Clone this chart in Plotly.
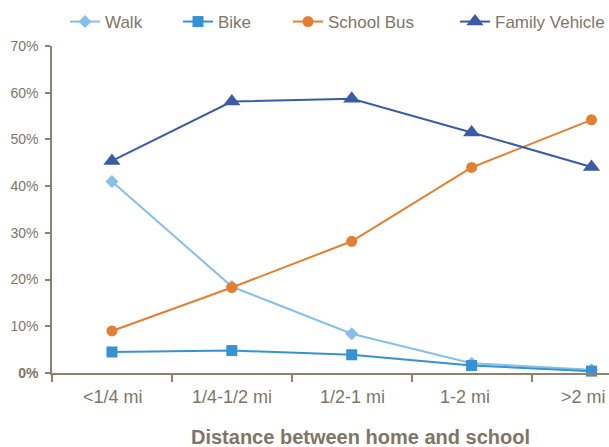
import plotly.graph_objects as go

# Travel mode share by distance between home and school
distances = ["<1/4 mi", "1/4-1/2 mi", "1/2-1 mi", "1-2 mi", ">2 mi"]
walk = [41.0, 18.5, 8.4, 2.1, 0.7]
bike = [4.5, 4.8, 3.9, 1.6, 0.4]
school_bus = [9.0, 18.3, 28.2, 44.0, 54.2]
family_vehicle = [45.4, 58.1, 58.7, 51.5, 44.1]

y_ticks = [0, 10, 20, 30, 40, 50, 60, 70]
y_tick_text = ["<b>0%</b>"] + [f"{v}%" for v in y_ticks[1:]]

FONT = "Liberation Sans, Arial, sans-serif"
TEXT = "#7f7565"
AXIS = "#8c8270"

series = [
    ("Walk", walk, "#86c0e8", "diamond", 10, "legend"),
    ("Bike", bike, "#3792d2", "square", 11, "legend2"),
    ("School Bus", school_bus, "#e47f31", "circle", 11, "legend3"),
    ("Family Vehicle", family_vehicle, "#3b5ba4", "triangle-up", 15, "legend4"),
]

fig = go.Figure()
for name, vals, color, symbol, size, leg in series:
    fig.add_trace(go.Scatter(
        x=distances, y=vals, name=name, mode="lines+markers",
        line=dict(color=color, width=2),
        marker=dict(symbol=symbol, size=size, color=color),
        cliponaxis=False, legend=leg, showlegend=True,
    ))

W, H = 609, 447
L, R, T, B = 52, 0, 46, 74
pw, ph = W - L - R, H - T - B


def px_x(px):
    return (px - L) / pw


def px_y(py):
    return (H - B - py) / ph


legend_left = [65, 178, 288, 455]
legends = {}
for i, left in enumerate(legend_left):
    key = "legend" if i == 0 else f"legend{i + 1}"
    legends[key] = dict(
        x=px_x(left), y=px_y(22), xanchor="left", yanchor="middle",
        orientation="h", bgcolor="rgba(0,0,0,0)",
        font=dict(family=FONT, size=17, color=TEXT),
    )

# Category labels drawn as annotations so the outer ones stay inside the frame
label_shift = [1, 0, 1, -7, -8]
annotations = [
    dict(text=cat, xref="x", yref="paper", x=cat, y=0, yshift=-24, xshift=dx,
         xanchor="center", yanchor="middle", showarrow=False,
         font=dict(family=FONT, size=18, color=TEXT))
    for cat, dx in zip(distances, label_shift)
]
annotations.append(dict(
    text="<b>Distance between home and school</b>",
    xref="paper", yref="paper", x=px_x(360), y=px_y(437),
    xanchor="center", yanchor="middle", showarrow=False,
    font=dict(family=FONT, size=20, color=TEXT),
))

fig.update_layout(
    width=W, height=H,
    margin=dict(l=L, r=R, t=T, b=B, autoexpand=False),
    plot_bgcolor="white", paper_bgcolor="white",
    font=dict(family=FONT, color=TEXT),
    showlegend=True,
    **legends,
    xaxis=dict(
        type="category", range=[-0.5, 4.146], automargin=False,
        showline=True, linecolor=AXIS, linewidth=1.5,
        ticks="outside", tickson="boundaries", ticklen=7, tickcolor=AXIS, tickwidth=1.5,
        showgrid=False, zeroline=False, showticklabels=False,
    ),
    yaxis=dict(
        range=[0, 70], tickvals=y_ticks, ticktext=y_tick_text, automargin=False,
        showline=True, linecolor=AXIS, linewidth=1.5,
        ticks="outside", ticklen=5, tickcolor=AXIS, tickwidth=1.5,
        showgrid=False, zeroline=False, ticklabelstandoff=4,
        tickfont=dict(family=FONT, size=14, color=TEXT),
    ),
    annotations=annotations,
)

fig.write_html("out.html")
